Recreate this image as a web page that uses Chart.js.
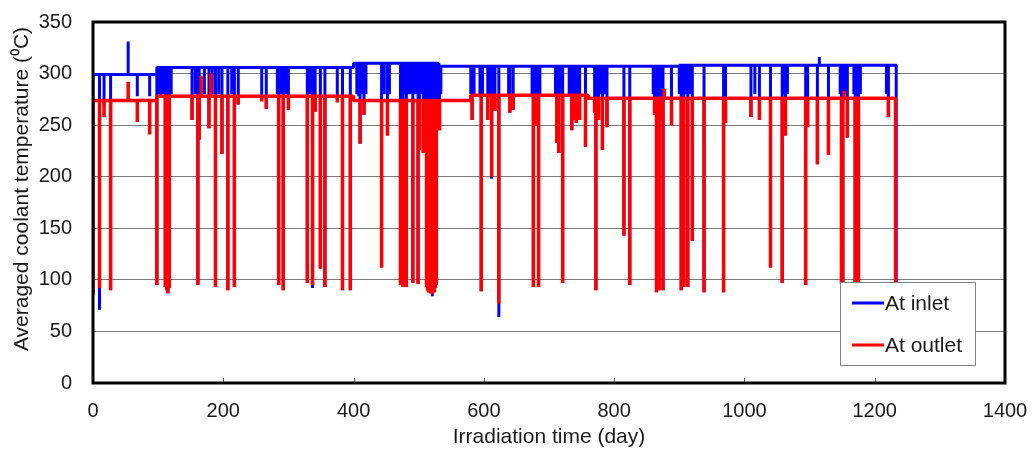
<!DOCTYPE html>
<html>
<head>
<meta charset="utf-8">
<script src="https://cdn.jsdelivr.net/npm/chart.js@4/dist/chart.umd.min.js"></script>
<style>
  html, body { margin: 0; padding: 0; background: #ffffff; }
  #wrap { position: relative; width: 1032px; height: 452px; }
</style>
</head>
<body>
<div id="wrap"><canvas id="c" width="1032" height="452"></canvas></div>
<script>
// ---------- data ----------
const seriesLabels = ["At inlet", "At outlet"];
const xTicks = [0, 200, 400, 600, 800, 1000, 1200, 1400];
const yTicks = [0, 50, 100, 150, 200, 250, 300, 350];
const xTitle = "Irradiation time (day)";
const yTitle = "Averaged coolant temperature (\u2070C)";

// start point, steady levels (day where level begins, level) and end of record
const inletStart = [0, 87];
const inletLevelDays = [0, 98, 400, 530, 900];
const inletLevels = [299, 306, 310, 307, 308];
const inletEnd = [1233, 97];

const outletStart = [0, 85];
const outletLevelDays = [0, 98, 400, 580, 760];
const outletLevels = [274, 278, 274, 279, 276];
const outletEnd = [1232, 97];

// excursions [day, temperature]
const outletDips = [
  [10, 92], [17, 258], [27, 90], [54, 292], [68, 253], [87, 241], [98, 95],
  [111, 93], [113, 90], [115, 87], [117, 92], [152, 255], [161, 95], [163, 236],
  [166, 298], [178, 247], [181, 300], [188, 93], [198, 222], [207, 90], [217, 93], [223, 270],
  [259, 273], [266, 266], [285, 95], [292, 90], [300, 265], [329, 97], [337, 95],
  [341, 263], [349, 111], [356, 93], [375, 272], [383, 90], [395, 90], [410, 232],
  [416, 260], [443, 112], [452, 240], [472, 95], [476, 93], [481, 93], [491, 97],
  [499, 96], [501, 226], [507, 223], [510, 250],
  [512, 93], [513.5, 90], [515, 88], [516.5, 92], [518, 87], [519.5, 89], [521, 86],
  [522.5, 90], [524, 88], [525.5, 92], [527, 95], [529, 250], [532, 245],
  [582, 255], [596, 89], [606, 255], [612, 200], [617, 264], [623, 77], [640, 262],
  [645, 265], [676, 93], [680, 250], [684, 93], [712, 233], [715, 223], [721, 97],
  [735, 245], [738, 255],
  [742, 252], [747, 255], [756, 229], [770, 262], [772, 90], [776, 255], [782, 226],
  [789, 248], [815, 143], [824, 95], [862, 260], [865, 88], [867, 92], [869, 90],
  [872, 255], [875, 90], [877, 285], [888, 250], [903, 90], [907, 93], [913, 93],
  [920, 138], [938, 88], [968, 88], [971, 252],
  [1010, 258], [1023, 255], [1040, 112], [1058, 97], [1063, 240], [1094, 95],
  [1097, 248], [1112, 212], [1129, 221], [1149, 96], [1151, 95], [1153, 283],
  [1158, 238], [1170, 96], [1172, 95], [1175, 96], [1221, 258]
];

const inletDips = [
  [10, 71], [17, 270], [27, 90], [54, 331], [68, 278], [87, 278], [98, 95],
  [101, 280], [104, 279], [108, 280], [111, 93], [113, 90], [115, 87], [117, 92], [120, 280],
  [152, 255], [157, 280], [161, 95], [163, 236], [171, 280], [178, 247], [183, 280],
  [188, 93], [193, 280], [198, 222], [207, 90], [213, 280], [217, 93], [223, 270],
  [259, 275], [266, 266], [283, 280], [285, 95], [288, 280], [292, 90], [296, 280],
  [300, 265], [329, 97], [333, 280], [337, 92], [341, 263], [349, 111], [356, 93],
  [375, 275], [383, 90], [395, 90], [405, 280], [408, 278], [410, 232], [413, 280],
  [416, 260], [419, 280], [443, 112], [447, 280], [452, 240], [455, 280], [472, 95],
  [474, 280], [476, 93], [479, 280], [481, 93], [485, 280], [488, 280], [491, 97],
  [494, 280], [496, 280], [499, 96], [501, 226], [504, 280], [507, 223], [510, 250],
  [512, 93], [513.5, 90], [515, 88], [516.5, 92], [518, 87], [519.5, 89], [521, 84],
  [522.5, 90], [524, 88], [525.5, 92], [527, 95], [529, 250], [531, 280], [532, 245], [534, 280],
  [580, 280], [582, 255], [585, 280], [594, 280], [596, 89], [598, 280], [606, 255],
  [609, 280], [612, 198], [615, 280], [617, 264], [623, 64], [638, 280], [640, 262],
  [645, 265], [674, 280], [676, 93], [679, 280], [680, 250], [682, 280], [684, 93],
  [686, 280], [710, 280], [712, 233], [715, 223], [718, 280], [721, 97], [731, 280],
  [735, 245], [738, 255],
  [742, 252], [745, 280], [747, 255], [756, 229], [770, 262], [772, 90], [774, 280],
  [776, 255], [779, 280], [782, 226], [785, 280], [789, 248], [815, 143], [824, 95],
  [860, 280], [862, 260], [865, 88], [867, 92], [869, 90], [871, 280], [872, 255],
  [874, 280], [875, 90], [888, 250], [900, 280], [903, 90], [907, 93], [910, 280],
  [913, 93], [916, 280], [920, 138], [938, 88], [968, 88], [971, 252],
  [1010, 258], [1016, 280], [1023, 255], [1040, 112], [1058, 97], [1060, 280],
  [1063, 240], [1066, 280], [1094, 95], [1097, 248], [1112, 212], [1115, 316],
  [1129, 221], [1147, 280], [1149, 96], [1151, 95], [1155, 280], [1158, 238],
  [1168, 280], [1170, 96], [1172, 95], [1175, 96], [1178, 280], [1218, 280], [1221, 258]
];

// ---------- build point lists from the read values ----------
function buildSeries(start, levelDays, levels, dips, end) {
  const base = (d) => {
    let v = levels[0];
    levelDays.forEach((ld, i) => { if (d >= ld) v = levels[i]; });
    return v;
  };
  const pts = [{ x: start[0], y: start[1] }];
  const knots = levelDays.map((d) => ({ d, lvl: true }))
    .concat(dips.map(([d, y]) => ({ d, y })))
    .sort((a, b) => a.d - b.d);
  knots.forEach((k) => {
    if (k.lvl) {
      if (k.d > 0) pts.push({ x: k.d, y: base(k.d - 0.001) });
      pts.push({ x: k.d, y: base(k.d) });
    } else {
      const b = base(k.d);
      pts.push({ x: k.d, y: b }, { x: k.d, y: k.y }, { x: k.d, y: b });
    }
  });
  pts.push({ x: end[0], y: base(end[0]) }, { x: end[0], y: end[1] });
  return pts;
}

const inletPoints = buildSeries(inletStart, inletLevelDays, inletLevels, inletDips, inletEnd);
const outletPoints = buildSeries(outletStart, outletLevelDays, outletLevels, outletDips, outletEnd);

const FONT = '"Liberation Sans", Arial, sans-serif';
const TEXT = '#1a1a1a';

const framePlugin = {
  id: 'frame',
  afterDatasetsDraw(chart) {
    const { ctx, chartArea: a, scales } = chart;
    ctx.save();
    // inward tick marks on the x axis
    ctx.strokeStyle = '#555';
    ctx.lineWidth = 1;
    xTicks.forEach((t) => {
      if (t === xTicks[0] || t === xTicks[xTicks.length - 1]) return;
      const px = Math.round(scales.x.getPixelForValue(t)) + 0.5;
      ctx.beginPath();
      ctx.moveTo(px, a.bottom);
      ctx.lineTo(px, a.bottom - 5);
      ctx.stroke();
    });
    // black frame
    ctx.strokeStyle = '#000';
    ctx.lineWidth = 3;
    ctx.strokeRect(a.left, a.top, a.right - a.left, a.bottom - a.top);
    ctx.restore();
  },
  afterDraw(chart) {
    const { ctx } = chart;
    ctx.save();
    // y-axis title
    ctx.fillStyle = TEXT;
    ctx.font = '21px ' + FONT;
    ctx.textAlign = 'center';
    ctx.textBaseline = 'middle';
    ctx.translate(22, 189);
    ctx.rotate(-Math.PI / 2);
    ctx.fillText(yTitle, 0, 0);
    ctx.restore();

    // legend box inside the plot area (bottom right)
    const bx = 840.5, by = 282.5, bw = 135, bh = 83;
    ctx.save();
    ctx.fillStyle = '#fff';
    ctx.fillRect(bx, by, bw, bh);
    ctx.strokeStyle = '#808080';
    ctx.lineWidth = 1;
    ctx.strokeRect(bx, by, bw, bh);
    const rows = [303, 345];
    chart.data.datasets.forEach((ds, i) => {
      ctx.strokeStyle = ds.borderColor;
      ctx.lineWidth = 3;
      ctx.beginPath();
      ctx.moveTo(852, rows[i]);
      ctx.lineTo(884, rows[i]);
      ctx.stroke();
      ctx.fillStyle = TEXT;
      ctx.font = '21px ' + FONT;
      ctx.textBaseline = 'middle';
      ctx.textAlign = 'left';
      ctx.fillText(ds.label, 885, rows[i] + 1);
    });
    ctx.restore();
  }
};

new Chart(document.getElementById('c'), {
  type: 'line',
  data: {
    datasets: [
      {
        label: seriesLabels[0],
        data: inletPoints,
        borderColor: '#0000ff',
        backgroundColor: '#0000ff',
        borderWidth: 3,
        pointRadius: 0,
        tension: 0,
        borderJoinStyle: 'bevel',
        order: 1
      },
      {
        label: seriesLabels[1],
        data: outletPoints,
        borderColor: '#ff0000',
        backgroundColor: '#ff0000',
        borderWidth: 3.5,
        pointRadius: 0,
        tension: 0,
        borderJoinStyle: 'bevel',
        order: 0
      }
    ]
  },
  options: {
    responsive: false,
    animation: false,
    events: [],
    layout: { padding: { left: 0, right: 27, top: 22, bottom: 0 } },
    plugins: { legend: { display: false }, tooltip: { enabled: false } },
    scales: {
      x: {
        type: 'linear',
        min: 0,
        max: 1400,
        afterBuildTicks: (s) => { s.ticks = xTicks.map((v) => ({ value: v })); },
        grid: { display: false },
        border: { display: false },
        ticks: {
          font: { family: FONT, size: 20 }, color: TEXT, padding: 8, maxRotation: 0,
          callback: (v) => String(v)
        },
        title: {
          display: true,
          text: xTitle,
          font: { family: FONT, size: 21 },
          color: TEXT,
          padding: { top: 0, bottom: 2 }
        },
        afterFit: (s) => { s.height = 69; s.paddingLeft = 0; s.paddingRight = 0; }
      },
      y: {
        type: 'linear',
        min: 0,
        max: 350,
        afterBuildTicks: (s) => { s.ticks = yTicks.map((v) => ({ value: v })); },
        grid: {
          color: (c) => (c.tick && (c.tick.value === 0 || c.tick.value === 350)) ? 'rgba(0,0,0,0)' : '#7a7a7a',
          lineWidth: 1,
          drawTicks: false
        },
        border: { display: false },
        ticks: { font: { family: FONT, size: 20 }, color: TEXT, padding: 21, callback: (v) => String(v) },
        title: { display: false },
        afterFit: (s) => { s.width = 93; s.paddingTop = 0; s.paddingBottom = 0; }
      }
    }
  },
  plugins: [framePlugin]
});
</script>
</body>
</html>
